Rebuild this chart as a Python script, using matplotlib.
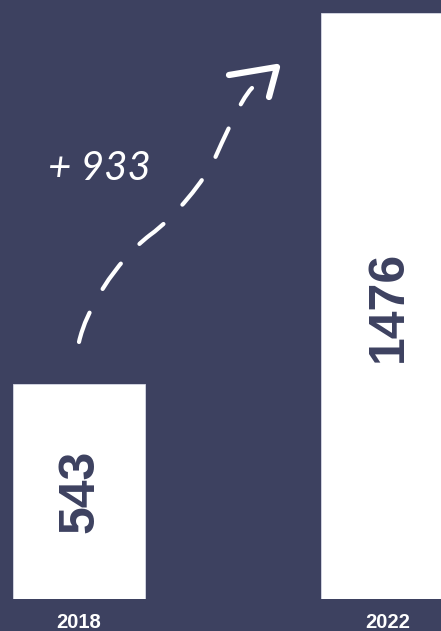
import matplotlib
matplotlib.use("Agg")
import matplotlib.pyplot as plt
from matplotlib.path import Path
from matplotlib.patches import PathPatch

years = ["2018", "2022"]
values = [543, 1476]

BG = "#3d4160"
W, H = 441, 631


def px(x, y):
    # figure pixel (from top-left) -> figure fraction
    return (x / W, 1 - y / H)


fig = plt.figure(figsize=(W / 100, H / 100), dpi=100, facecolor=BG)
ax = fig.add_axes([0, 32 / H, 1, 599 / H], facecolor=BG)

xpos = list(range(len(values)))
ax.bar(xpos, values, width=0.428, color="white", edgecolor="#d8dae6", linewidth=0.6)
ax.set_xlim(-0.256, 1.174)
ax.set_ylim(0, 1510)

for x, v in zip(xpos, values):
    ax.text(x + 0.005, v / 2, str(v), rotation=90, ha="center", va="center",
            family="Liberation Sans", fontweight="bold", fontsize=36, color=BG)

ax.set_xticks(xpos)
ax.set_xticklabels(years, family="Liberation Sans", fontweight="bold",
                   fontsize=14.5, color="white")
ax.tick_params(axis="x", length=0, pad=10)
ax.set_yticks([])
for s in ax.spines.values():
    s.set_visible(False)

# hand-drawn dashed arrow showing the increase
verts = [px(79, 342), px(86, 310), px(115, 262), px(150, 235),
         px(175, 217), px(205, 180), px(215, 158),
         px(222, 143), px(240, 100), px(252, 88)]
codes = [Path.MOVETO] + [Path.CURVE4] * 9
curve = PathPatch(Path(verts, codes), transform=fig.transFigure, fill=False,
                  edgecolor="white", linewidth=3, linestyle=(0, (7.5, 6.5)),
                  capstyle="round")
fig.add_artist(curve)

head = [px(229, 75), px(277, 67), px(269, 97)]
fig.add_artist(plt.Line2D([p[0] for p in head], [p[1] for p in head],
                          transform=fig.transFigure, color="white", linewidth=4.5,
                          solid_capstyle="round", solid_joinstyle="round"))

diff = values[1] - values[0]
fig.text(*px(99, 169), f"+ {diff}", ha="center", va="center", color="white",
         family="Lato", fontstyle="italic", fontweight="normal", fontsize=29)

fig.savefig("out.png", dpi=100, facecolor=BG)
